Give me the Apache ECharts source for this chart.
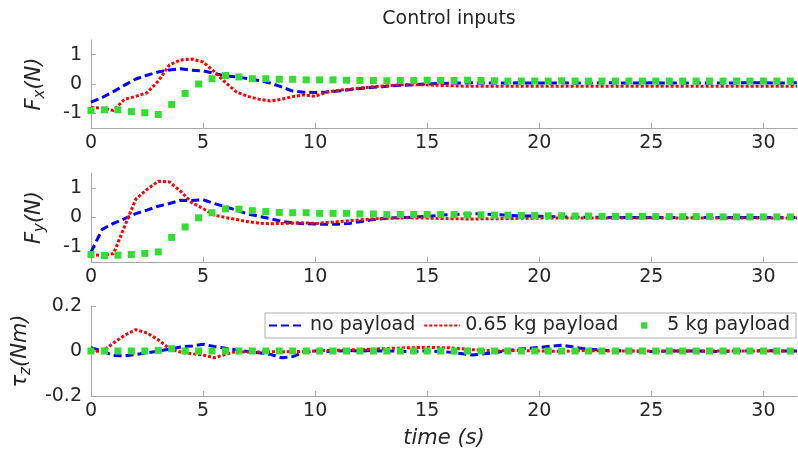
<!DOCTYPE html>
<html>
<head>
<meta charset="utf-8">
<script src="https://cdn.jsdelivr.net/npm/echarts@6/dist/echarts.min.js"></script>
<style>html,body{margin:0;padding:0;background:#fff}#c{width:798px;height:453px}</style>
</head>
<body>
<div id="c"></div>
<script>
// ---- data ----
const seriesNames = ['no payload', '0.65 kg payload', '5 kg payload'];
const xTicks = [0, 5, 10, 15, 20, 25, 30];
const forceTicks = [-1, 0, 1];
const torqueTicks = [-0.2, 0, 0.2];

const tLine = [0,0.5,1,1.5,2,2.5,3,3.5,4,4.5,5,5.5,6,6.5,7,7.5,8,8.5,9,9.5,10,10.5,11,11.5,12,12.5,13,13.5,14,15,16,17,18,19,20,21,22,23,24,25,26,27,28,29,30,31,31.5];
const tGreen = [0,0.6,1.2,1.8,2.4,3,3.6,4.2,4.8,5.4,6,6.6,7.2,7.8,8.4,9,9.6,10.2,10.8,11.4,12,12.6,13.2,13.8,14.4,15,15.6,16.2,16.8,17.4,18,18.6,19.2,19.8,20.4,21,21.6,22.2,22.8,23.4,24,24.6,25.2,25.8,26.4,27,27.6,28.2,28.8,29.4,30,30.6,31.2];

const fxNo  = [-0.62,-0.46,-0.26,-0.04,0.17,0.3,0.41,0.48,0.52,0.47,0.45,0.36,0.28,0.24,0.18,0.12,0.03,-0.1,-0.24,-0.28,-0.29,-0.27,-0.24,-0.2,-0.15,-0.12,-0.09,-0.06,-0.04,0.0,0.03,0.04,0.03,0.04,0.03,0.04,0.03,0.04,0.03,0.04,0.03,0.04,0.03,0.04,0.04,0.03,0.04];
const fxMid = [-0.8,-0.83,-0.9,-0.52,-0.42,-0.3,0.1,0.65,0.82,0.85,0.75,0.42,0.05,-0.28,-0.42,-0.52,-0.58,-0.52,-0.43,-0.37,-0.42,-0.28,-0.22,-0.18,-0.14,-0.1,-0.07,-0.04,-0.02,-0.03,-0.06,-0.08,-0.08,-0.08,-0.08,-0.08,-0.08,-0.08,-0.08,-0.08,-0.08,-0.08,-0.08,-0.08,-0.08,-0.08,-0.08];
const fxHeavy = [-0.9,-0.88,-0.88,-0.94,-0.98,-1.04,-0.7,-0.32,0.0,0.18,0.29,0.24,0.18,0.18,0.16,0.16,0.14,0.14,0.14,0.13,0.12,0.12,0.11,0.12,0.12,0.13,0.12,0.12,0.13,0.12,0.11,0.1,0.1,0.1,0.1,0.11,0.1,0.1,0.1,0.1,0.1,0.1,0.1,0.1,0.1,0.1,0.1,0.1,0.1,0.1,0.1,0.1,0.1];

const fyNo  = [-1.17,-0.4,-0.2,-0.04,0.13,0.25,0.38,0.47,0.58,0.57,0.6,0.47,0.36,0.24,0.12,0.04,-0.04,-0.13,-0.18,-0.21,-0.22,-0.23,-0.23,-0.2,-0.14,-0.08,-0.04,-0.01,0.0,0.04,0.1,0.13,0.1,0.06,0.04,0.02,0.01,0.0,0.0,0.0,0.0,0.0,0.0,0.0,0.0,0.0,0.0];
const fyMid = [-1.25,-1.28,-1.22,-0.3,0.62,0.95,1.22,1.2,0.88,0.5,0.3,0.08,0.0,-0.07,-0.14,-0.19,-0.21,-0.2,-0.19,-0.18,-0.2,-0.17,-0.14,-0.11,-0.08,-0.05,-0.03,-0.02,-0.01,-0.02,-0.04,-0.05,-0.04,-0.03,-0.02,-0.02,-0.02,-0.02,-0.02,-0.02,-0.02,-0.02,-0.02,-0.02,-0.02,-0.02,-0.02];
const fyHeavy = [-1.25,-1.28,-1.27,-1.25,-1.21,-1.16,-0.67,-0.32,-0.01,0.16,0.29,0.28,0.23,0.2,0.17,0.16,0.16,0.14,0.14,0.14,0.12,0.12,0.1,0.1,0.1,0.1,0.1,0.1,0.09,0.09,0.08,0.08,0.07,0.07,0.06,0.06,0.05,0.05,0.04,0.04,0.04,0.04,0.03,0.03,0.03,0.03,0.03,0.02,0.02,0.02,0.02,0.02,0.02];

const tzNo  = [0.015,0.0,-0.02,-0.022,-0.015,-0.008,0.0,0.008,0.018,0.022,0.03,0.02,0.012,0.005,-0.002,-0.008,-0.015,-0.03,-0.025,-0.005,0.0,-0.002,0.0,0.002,0.0,0.002,0.0,0.0,-0.002,0.0,-0.005,-0.018,-0.008,0.008,0.016,0.026,0.01,0.002,0.0,-0.002,0.0,0.0,-0.002,0.0,0.002,0.0,0.0];
const tzMid = [0.0,-0.002,0.035,0.07,0.095,0.08,0.05,0.01,-0.005,-0.012,-0.018,-0.03,-0.015,-0.002,-0.005,-0.004,-0.003,-0.004,-0.002,-0.002,0.0,0.002,0.003,0.005,0.006,0.008,0.01,0.012,0.014,0.016,0.014,0.006,0.0,0.002,0.0,-0.002,0.002,0.0,0.0,0.0,0.0,0.0,0.0,0.0,0.0,0.0,0.0];
const tzHeavy = [0,0,0,0,0,0.003,0.01,0,0,0,0,0,0,0,0,0,0,0,0,0,0,0,0,0,0,0,0,0,0,0,0,0,0,0,0,0,0,0,0,0,0,0,0,0,0,0,0,0,0,0,0,0,0];

// ---- chart ----
const FONT = 'DejaVu Sans';
const TXT = '#262626';
const AX = '#a8a8a8';
const BLUE = '#0000ff', RED = '#ff0000', GREEN = '#33dd33';
const zip = (t, v) => t.map((x, i) => [x, v[i]]);

const grids = [
  {left: 91, right: 1, top: 40, height: 88},
  {left: 91, right: 1, top: 173, height: 89},
  {left: 91, right: 1, top: 306, height: 90}
];

function xAxis(i) {
  return {
    type: 'value', gridIndex: i, min: 0, max: 31.5,
    axisLine: {show: true, onZero: false, lineStyle: {color: AX, width: 1}},
    axisTick: {show: true, inside: true, length: 5, lineStyle: {color: AX}, customValues: xTicks},
    axisLabel: {color: TXT, fontSize: 19, fontFamily: FONT, margin: 6, customValues: xTicks},
    splitLine: {show: false},
    name: i === 2 ? 'time (s)' : '',
    nameLocation: 'middle', nameGap: 32,
    nameTextStyle: {color: TXT, fontSize: 21, fontFamily: FONT, fontStyle: 'italic'}
  };
}
function yAxis(i, min, max, ticks, nm, sub, unit) {
  return {
    type: 'value', gridIndex: i, min: min, max: max,
    axisLine: {show: true, onZero: false, lineStyle: {color: AX, width: 1}},
    axisTick: {show: true, inside: true, length: 5, lineStyle: {color: AX}, customValues: ticks},
    axisLabel: {color: TXT, fontSize: 19, fontFamily: FONT, margin: 9, customValues: ticks},
    splitLine: {show: false},
    name: '{a|' + nm + '}{b|' + sub + '}{a|' + unit + '}',
    nameLocation: 'middle', nameRotate: 90, nameGap: 43,
    nameTextStyle: {
      color: TXT, fontFamily: FONT,
      rich: {
        a: {fontSize: 21, fontStyle: 'italic', fontFamily: FONT, color: TXT, lineHeight: 26, verticalAlign: 'middle'},
        b: {fontSize: 15, fontStyle: 'italic', fontFamily: FONT, color: TXT, lineHeight: 26, verticalAlign: 'bottom'}
      }
    }
  };
}

const sets = [[fxNo, fxMid, fxHeavy], [fyNo, fyMid, fyHeavy], [tzNo, tzMid, tzHeavy]];
const series = [];
sets.forEach((s, i) => {
  series.push({
    name: seriesNames[0], type: 'line', xAxisIndex: i, yAxisIndex: i,
    data: zip(tLine, s[0]), symbol: 'none', color: BLUE,
    itemStyle: {color: BLUE, opacity: 0},
    lineStyle: {color: BLUE, width: 3, type: [8, 4], cap: 'butt'}, z: 3
  });
  series.push({
    name: seriesNames[1], type: 'line', xAxisIndex: i, yAxisIndex: i,
    data: zip(tLine, s[1]), symbol: 'none', color: RED,
    itemStyle: {color: RED, opacity: 0},
    lineStyle: {color: RED, width: 3, type: [3, 2], cap: 'butt'}, z: 4
  });
  series.push({
    name: seriesNames[2], type: 'line', xAxisIndex: i, yAxisIndex: i,
    data: zip(tGreen, s[2]), symbol: 'rect', symbolSize: 7, showSymbol: true, showAllSymbol: true,
    color: GREEN, itemStyle: {color: GREEN},
    lineStyle: {width: 0, opacity: 0}, z: 5
  });
});

const chart = echarts.init(document.getElementById('c'), null, {renderer: 'canvas'});
chart.setOption({
  animation: false,
  backgroundColor: '#fff',
  textStyle: {fontFamily: FONT},
  title: {
    text: 'Control inputs', left: 444, top: 5, textAlign: 'center',
    textStyle: {color: TXT, fontSize: 19, fontWeight: 'normal', fontFamily: FONT}
  },
  grid: grids,
  xAxis: [xAxis(0), xAxis(1), xAxis(2)],
  yAxis: [
    yAxis(0, -1.5, 1.5, forceTicks, 'F', 'x', '(N)'),
    yAxis(1, -1.5, 1.5, forceTicks, 'F', 'y', '(N)'),
    yAxis(2, -0.2, 0.2, torqueTicks, 'τ', 'z', '(Nm)')
  ],
  legend: {
    data: [
      {name: seriesNames[0], itemStyle: {opacity: 0}},
      {name: seriesNames[1], itemStyle: {opacity: 0}},
      {name: seriesNames[2]}
    ],
    left: 265, top: 313,
    itemWidth: 36, itemHeight: 8, itemGap: 8,
    padding: [3, 6, 3, 3],
    backgroundColor: '#fff',
    borderColor: '#b0b0b0', borderWidth: 1, borderRadius: 0,
    textStyle: {color: TXT, fontSize: 19, fontFamily: FONT},
    selectedMode: false
  },
  series: series
});
</script>
</body>
</html>
